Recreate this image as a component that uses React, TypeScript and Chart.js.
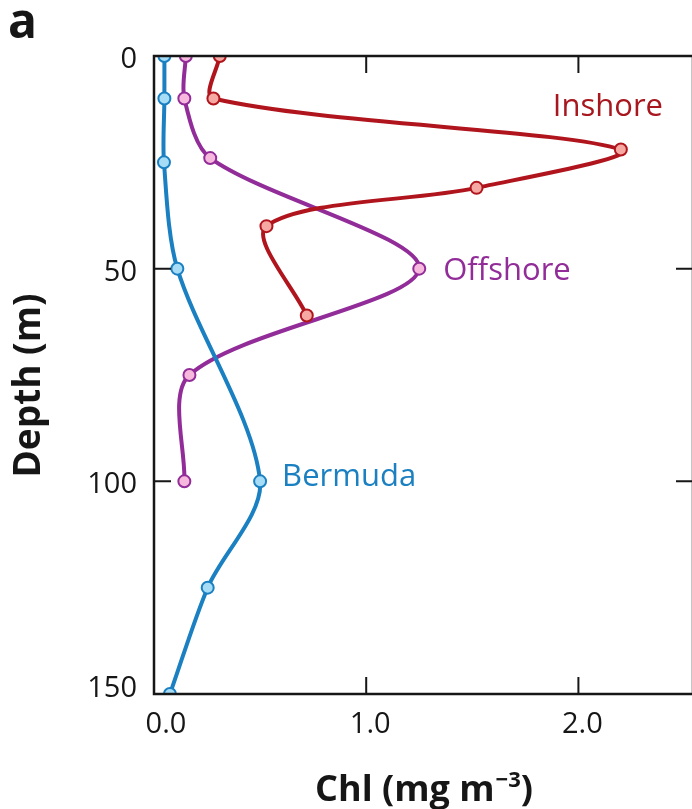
import React, { useEffect, useRef } from "react";
import { Chart, registerables } from "chart.js";

Chart.register(...registerables);

// ---- data ----
const seriesNames = ["Inshore", "Offshore", "Bermuda"];

const inshoreDepth = [0, 10, 22, 31, 40, 61];
const inshoreChl = [0.31, 0.28, 2.2, 1.52, 0.53, 0.72];

const offshoreDepth = [0, 10, 24, 50, 75, 100];
const offshoreChl = [0.15, 0.143, 0.265, 1.25, 0.167, 0.143];

const bermudaDepth = [0, 10, 25, 50, 100, 125, 150];
const bermudaChl = [0.049, 0.049, 0.047, 0.11, 0.5, 0.253, 0.075];

const chlTicks = [0, 1, 2];
const depthTicks = [0, 50, 100, 150];

const xTitle = "Chl (mg m";
const xTitleSup = "\u22123";
const yTitle = "Depth (m)";
const panelLabel = "a";

const FONT = '"Open Sans", "DejaVu Sans", sans-serif';

export default function App() {
  const ref = useRef<HTMLCanvasElement>(null);

  useEffect(() => {
    const canvas = ref.current!;
    const mk = (depth: number[], chl: number[]) => depth.map((d, i) => ({ x: chl[i], y: d }));

    const styles = [
      { line: "#b0151d", fill: "#f6a9a3", text: "#a8161e", order: 0 },
      { line: "#922c99", fill: "#f6b9dd", text: "#922c99", order: 2 },
      { line: "#1a80c1", fill: "#a6dcf6", text: "#1a80c1", order: 1 },
    ];
    const seriesData = [
      mk(inshoreDepth, inshoreChl),
      mk(offshoreDepth, offshoreChl),
      mk(bermudaDepth, bermudaChl),
    ];
    // label offsets (px) from each series' maximum point
    const labelOffsets = [
      [-68, -34],
      [24, 11.5],
      [22, 4.5],
    ];

    const frame = {
      id: "frame",
      afterDraw(chart: any) {
        const { ctx, chartArea: a, scales } = chart;
        const xs = scales.x;
        const ys = scales.y;
        ctx.save();
        // frame
        ctx.strokeStyle = "#161616";
        ctx.lineWidth = 2.5;
        ctx.strokeRect(a.left, a.top, a.right - a.left, a.bottom - a.top);
        // inward ticks
        ctx.lineWidth = 2;
        const tl = 17;
        ctx.beginPath();
        xs.ticks.forEach((t: any) => {
          const px = xs.getPixelForValue(t.value);
          if (px <= a.left + 1 || px >= a.right - 1) return;
          ctx.moveTo(px, a.bottom);
          ctx.lineTo(px, a.bottom - tl);
          ctx.moveTo(px, a.top);
          ctx.lineTo(px, a.top + tl);
        });
        ys.ticks.forEach((t: any) => {
          const py = ys.getPixelForValue(t.value);
          if (py <= a.top + 1 || py >= a.bottom - 1) return;
          ctx.moveTo(a.left, py);
          ctx.lineTo(a.left + tl, py);
          ctx.moveTo(a.right, py);
          ctx.lineTo(a.right - tl, py);
        });
        ctx.stroke();

        // tick labels
        ctx.fillStyle = "#161616";
        ctx.font = `29px ${FONT}`;
        ctx.textBaseline = "alphabetic";
        ctx.textAlign = "center";
        xs.ticks.forEach((t: any) => {
          const px = xs.getPixelForValue(t.value);
          const off = t.value === 0 ? 12 : 4;
          ctx.fillText(Number(t.value).toFixed(1), px + off, 733);
        });
        ctx.textAlign = "right";
        ys.ticks.forEach((t: any) => {
          const py = ys.getPixelForValue(t.value);
          const off = t.value === ys.max ? -7 : 1.5;
          ctx.fillText(String(t.value), a.left - 17, py + off + 10.4);
        });

        // x title with superscript
        ctx.textAlign = "left";
        const bigFont = `bold 36px ${FONT}`;
        const supFont = `bold 22px ${FONT}`;
        ctx.font = bigFont;
        const w1 = ctx.measureText(xTitle).width;
        const w3 = ctx.measureText(")").width;
        ctx.font = supFont;
        const w2 = ctx.measureText(xTitleSup).width;
        const total = w1 + w2 + 1 + w3;
        const x0 = 424 - total / 2;
        const base = 801;
        ctx.font = bigFont;
        ctx.fillText(xTitle, x0, base);
        ctx.font = supFont;
        ctx.fillText(xTitleSup, x0 + w1 + 1, base - 14);
        ctx.font = bigFont;
        ctx.fillText(")", x0 + w1 + 1 + w2, base);

        // y title
        ctx.save();
        ctx.translate(40, 385.5);
        ctx.rotate(-Math.PI / 2);
        ctx.textAlign = "center";
        ctx.font = `bold 37px ${FONT}`;
        ctx.fillText(yTitle, 0, 0);
        ctx.restore();

        // panel label
        ctx.textAlign = "left";
        ctx.font = `bold 48px ${FONT}`;
        ctx.fillText(panelLabel, 8, 38);

        // series labels, anchored at each series' maximum point
        ctx.font = `31px ${FONT}`;
        seriesData.forEach((pts, i) => {
          let best = pts[0];
          pts.forEach((p) => {
            if (p.x > best.x) best = p;
          });
          const px = xs.getPixelForValue(best.x);
          const py = ys.getPixelForValue(best.y);
          ctx.fillStyle = styles[i].text;
          ctx.fillText(seriesNames[i], px + labelOffsets[i][0], py + labelOffsets[i][1]);
        });
        ctx.restore();
      },
    };

    const chart = new Chart(canvas, {
      type: "line",
      data: {
        datasets: seriesData.map((d, i) => ({
          label: seriesNames[i],
          data: d,
          borderColor: styles[i].line,
          borderWidth: 4,
          pointRadius: 6,
          pointBorderWidth: 2,
          pointBackgroundColor: styles[i].fill,
          pointBorderColor: styles[i].line,
          tension: 0.3,
          fill: false,
          clip: 0,
          order: styles[i].order,
        })),
      } as any,
      options: {
        indexAxis: "y",
        animation: false,
        responsive: false,
        devicePixelRatio: 1,
        events: [],
        layout: { padding: { top: 56, right: 27, left: 0, bottom: 0 } },
        plugins: { legend: { display: false }, tooltip: { enabled: false } },
        scales: {
          x: {
            type: "linear",
            position: "bottom",
            min: 0,
            max: 2.54,
            grid: { display: false, drawTicks: false },
            border: { display: false },
            ticks: { display: false },
            afterBuildTicks: (s: any) => {
              s.ticks = chlTicks.map((v) => ({ value: v }));
            },
            afterFit: (s: any) => {
              s.height = 809 - 694;
            },
          },
          y: {
            type: "linear",
            position: "left",
            reverse: true,
            min: 0,
            max: 150,
            grid: { display: false, drawTicks: false },
            border: { display: false },
            ticks: { display: false },
            afterBuildTicks: (s: any) => {
              s.ticks = depthTicks.map((v) => ({ value: v }));
            },
            afterFit: (s: any) => {
              s.width = 154;
            },
          },
        },
      } as any,
      plugins: [frame],
    });

    return () => chart.destroy();
  }, []);

  return (
    <div
      style={{
        position: "fixed",
        left: 0,
        top: 0,
        width: 692,
        height: 809,
        overflow: "hidden",
        background: "#fff",
      }}
    >
      <canvas ref={ref} width={720} height={809} style={{ display: "block", width: 720, height: 809 }} />
    </div>
  );
}
